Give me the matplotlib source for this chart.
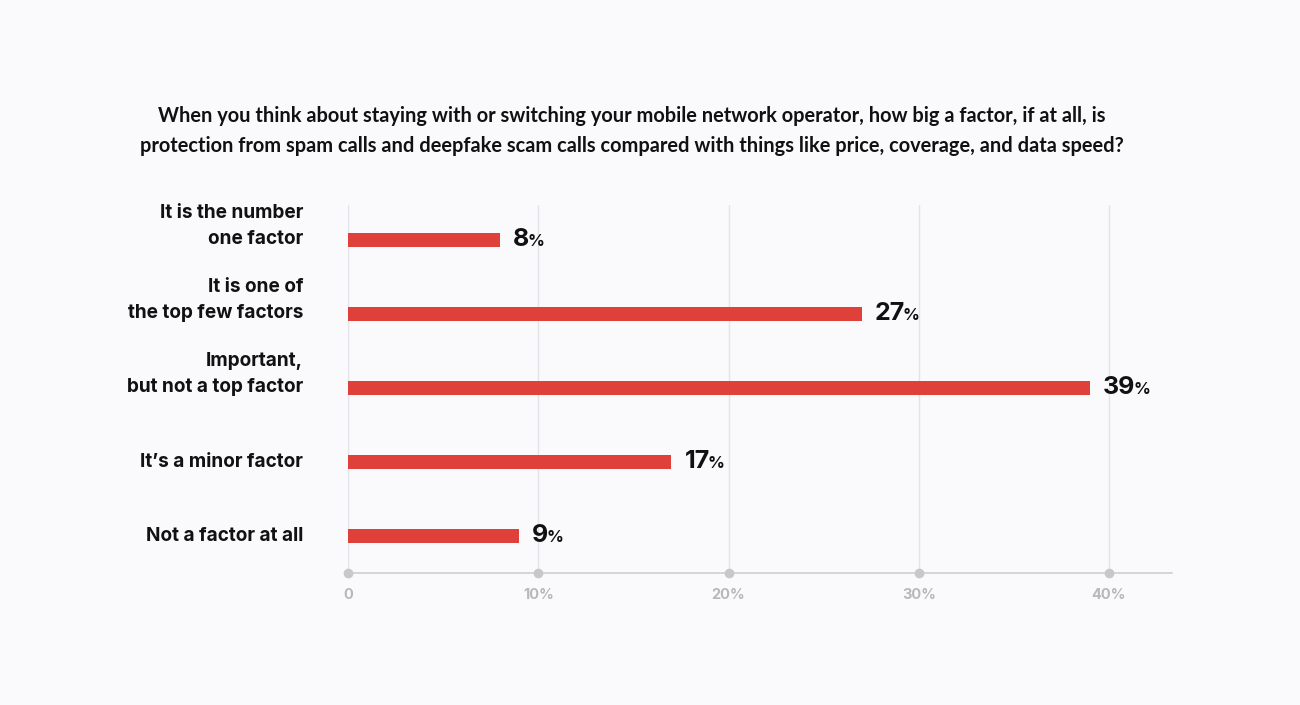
import matplotlib.pyplot as plt

categories = ["It is the number\none factor", "It is one of\nthe top few factors",
              "Important,\nbut not a top factor", "It\u2019s a minor factor", "Not a factor at all"]
values = [8, 27, 39, 17, 9]
tick_vals = [0, 10, 20, 30, 40]
tick_labels = ["0", "10%", "20%", "30%", "40%"]
title = ("When you think about staying with or switching your mobile network operator, how big a factor, if at all, is\n"
         "protection from spam calls and deepfake scam calls compared with things like price, coverage, and data speed?")

bg = "#fafafc"
red = "#e0403a"
grey = "#b8b8b8"

fig = plt.figure(figsize=(13, 7.05), dpi=100, facecolor=bg)
ax = fig.add_axes([348 / 1300, 1 - 573 / 705, (1172 - 348) / 1300, (573 - 205) / 705])
ax.set_facecolor(bg)

ypos = list(range(len(categories)))
ax.barh(ypos, values, height=0.19, color=red, zorder=3)
ax.set_xlim(0, 40 * (1172 - 348) / (1109 - 348))
ax.set_ylim(4 + 37 / 74, -35 / 74)

for t in tick_vals:
    ax.axvline(t, color="#e4e4e8", lw=1, zorder=1)
ax.plot(tick_vals, [ax.get_ylim()[0]] * len(tick_vals), "o", color="#c8c8c8",
        ms=6, clip_on=False, zorder=4)

for s in ["top", "right", "left"]:
    ax.spines[s].set_visible(False)
ax.spines["bottom"].set_color("#cfcfcf")
ax.spines["bottom"].set_linewidth(1.2)
ax.set_yticks([])
ax.set_xticks(tick_vals)
ax.set_xticklabels(tick_labels, fontfamily="Inter", fontweight="bold", fontsize=10.5, color=grey)
ax.tick_params(axis="x", length=0, pad=11)

for y, lab in zip(ypos, categories):
    nlines = lab.count("\n")
    ax.annotate(lab, xy=(0, y), xycoords=("axes fraction", "data"),
                xytext=(-45, 14 * nlines), textcoords="offset pixels",
                ha="right", va="center", fontfamily="Inter", fontweight="bold",
                fontsize=13.7, color="#111111", linespacing=1.62)

for y, v in zip(ypos, values):
    t = ax.annotate(str(v), xy=(v, y), xytext=(13, 0), textcoords="offset pixels",
                    ha="left", va="center", fontfamily="Inter", fontweight="bold",
                    fontsize=18, color="#111111")
    ax.annotate("%", xy=(1, 0), xycoords=t, xytext=(-2, 2), textcoords="offset pixels",
                ha="left", va="bottom", fontfamily="Inter", fontweight="bold",
                fontsize=12, color="#111111")

fig.text(632 / 1300, 1 - 131 / 705, title, ha="center", va="center", fontfamily="Lato",
         fontweight="bold", fontsize=14.4, color="#111111", linespacing=1.65)

fig.savefig("out.png", dpi=100, facecolor=bg)
